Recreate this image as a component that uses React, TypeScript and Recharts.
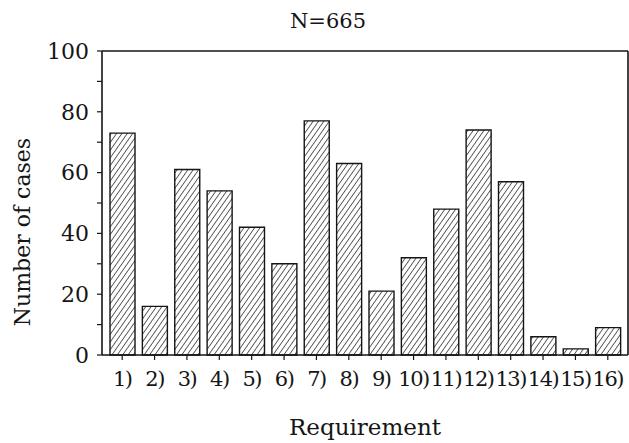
import React from 'react';
import { BarChart, Bar, XAxis, YAxis } from 'recharts';

// Requirement categories and number of cases (sum = N = 665)
const requirements = ['1)', '2)', '3)', '4)', '5)', '6)', '7)', '8)', '9)', '10)', '11)', '12)', '13)', '14)', '15)', '16)'];
const cases = [73, 16, 61, 54, 42, 30, 77, 63, 21, 32, 48, 74, 57, 6, 2, 9];
const yTicks = [0, 10, 20, 30, 40, 50, 60, 70, 80, 90, 100];
const title = 'N=665';

const data = requirements.map((requirement, i) => ({ requirement, cases: cases[i] }));

const FONT = '"DejaVu Serif", "Liberation Serif", serif';
const INK = '#151515';

// rotated y-axis title, placed a bit below the plot's middle like the scan
const YTitle = () => (
  <text
    x={22}
    y={232}
    transform="rotate(-90 22 232)"
    textAnchor="middle"
    dominantBaseline="central"
    fill={INK}
    fontFamily={FONT}
    fontSize={22}
  >
    Number of cases
  </text>
);

export default function App() {
  return (
    <div style={{ position: 'absolute', left: 0, top: 0, width: 629, height: 443, background: '#fff', overflow: 'hidden' }}>
      <div
        style={{
          position: 'absolute',
          left: 0,
          top: 9,
          width: 656,
          textAlign: 'center',
          fontFamily: FONT,
          fontSize: 21,
          color: INK,
        }}
      >
        {title}
      </div>
      <BarChart
        width={629}
        height={443}
        data={data}
        margin={{ top: 0, right: 0, bottom: 0, left: 0 }}
        barSize={25}
      >
        <defs>
          <pattern id="hatch" width="4.4" height="4.4" patternUnits="userSpaceOnUse" patternTransform="rotate(35)">
            <rect width="4.4" height="4.4" fill="#fff" />
            <line x1="0" y1="0" x2="0" y2="4.4" stroke="#222" strokeWidth="1.4" />
          </pattern>
        </defs>
        <XAxis
          dataKey="requirement"
          xAxisId="bottom"
          height={88}
          interval={0}
          padding={{ left: 4, right: 4 }}
          tickSize={5}
          tickMargin={11}
          axisLine={{ stroke: INK, strokeWidth: 1.6 }}
          tickLine={{ stroke: INK, strokeWidth: 1.2 }}
          tick={{ fill: INK, fontFamily: FONT, fontSize: 21, letterSpacing: -1.5 }}
          label={{
            value: 'Requirement',
            position: 'insideBottom',
            offset: 8,
            style: { fill: INK, fontFamily: FONT, fontSize: 23 },
          }}
        />
        <XAxis
          dataKey="requirement"
          xAxisId="top"
          orientation="top"
          height={51}
          tick={false}
          tickLine={false}
          axisLine={{ stroke: INK, strokeWidth: 1.6 }}
        />
        <YAxis
          yAxisId="left"
          width={102}
          domain={[0, 100]}
          ticks={yTicks}
          interval={0}
          tickSize={5}
          tickMargin={8}
          tickFormatter={(v: number) => (v % 20 === 0 ? String(v) : '')}
          axisLine={{ stroke: INK, strokeWidth: 1.6 }}
          tickLine={{ stroke: INK, strokeWidth: 1.2 }}
          tick={{ fill: INK, fontFamily: FONT, fontSize: 22 }}
          label={{ content: () => <YTitle /> }}
        />
        <YAxis
          yAxisId="right"
          orientation="right"
          width={1}
          domain={[0, 100]}
          tick={false}
          tickLine={false}
          axisLine={{ stroke: INK, strokeWidth: 1.6 }}
        />
        <Bar
          dataKey="cases"
          xAxisId="bottom"
          yAxisId="left"
          fill="url(#hatch)"
          stroke={INK}
          strokeWidth={1.4}
          isAnimationActive={false}
        />
      </BarChart>
    </div>
  );
}
